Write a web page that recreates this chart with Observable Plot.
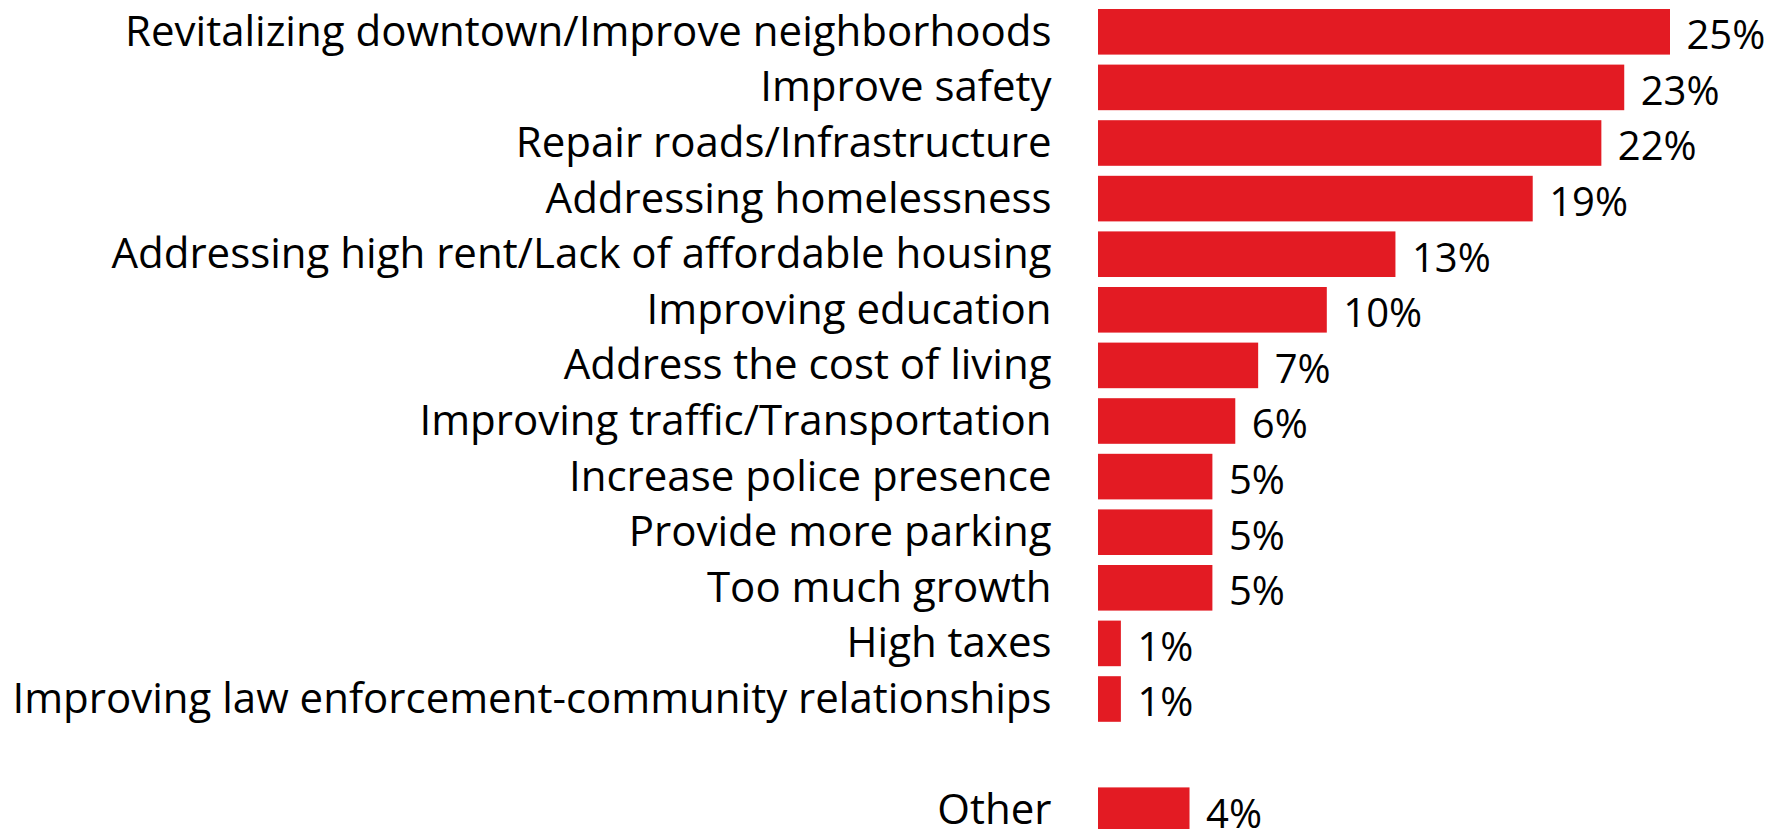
<!DOCTYPE html>
<html>
<head>
<meta charset="utf-8">
<script src="https://cdn.jsdelivr.net/npm/d3@7"></script>
<script src="https://cdn.jsdelivr.net/npm/@observablehq/plot@0.6"></script>
<style>
  html, body { margin: 0; padding: 0; background: #fff; overflow: hidden; }
</style>
</head>
<body>
<div id="chart"></div>
<script>
const categories = [
  "Revitalizing downtown/Improve neighborhoods",
  "Improve safety",
  "Repair roads/Infrastructure",
  "Addressing homelessness",
  "Addressing high rent/Lack of affordable housing",
  "Improving education",
  "Address the cost of living",
  "Improving traffic/Transportation",
  "Increase police presence",
  "Provide more parking",
  "Too much growth",
  "High taxes",
  "Improving law enforcement-community relationships",
  "Other"
];
const values = [25, 23, 22, 19, 13, 10, 7, 6, 5, 5, 5, 1, 1, 4];
const spacer = " ";

const data = categories.map((c, i) => ({category: c, value: values[i]}));
const domain = [...categories.slice(0, 13), spacer, "Other"];

const LABEL_FONT = 42;
const VALUE_FONT = 40;
const chart = Plot.plot({
  width: 1783,
  height: 838,
  marginLeft: 1098,
  marginRight: 113,
  marginTop: 4,
  marginBottom: 0,
  style: {fontFamily: "'Open Sans', sans-serif", fontSize: LABEL_FONT + "px", color: "#000", background: "#fff"},
  x: {domain: [0, 25], axis: null},
  y: {domain, paddingInner: 0.18, paddingOuter: 0.09, align: 0.5, round: false, label: null, axis: null},
  marks: [
    Plot.barX(data, {x: "value", y: "category", fill: "#E31B23"}),
    Plot.text(data, {x: "value", y: "category", text: d => d.value + "%", textAnchor: "start", dx: 16, dy: 4, fontSize: VALUE_FONT, fill: "#000"}),
    Plot.axisY({tickSize: 0, tickPadding: 47, fontSize: LABEL_FONT, dy: 0, label: null, fill: "#000"})
  ]
});
document.getElementById("chart").appendChild(chart);
</script>
</body>
</html>
